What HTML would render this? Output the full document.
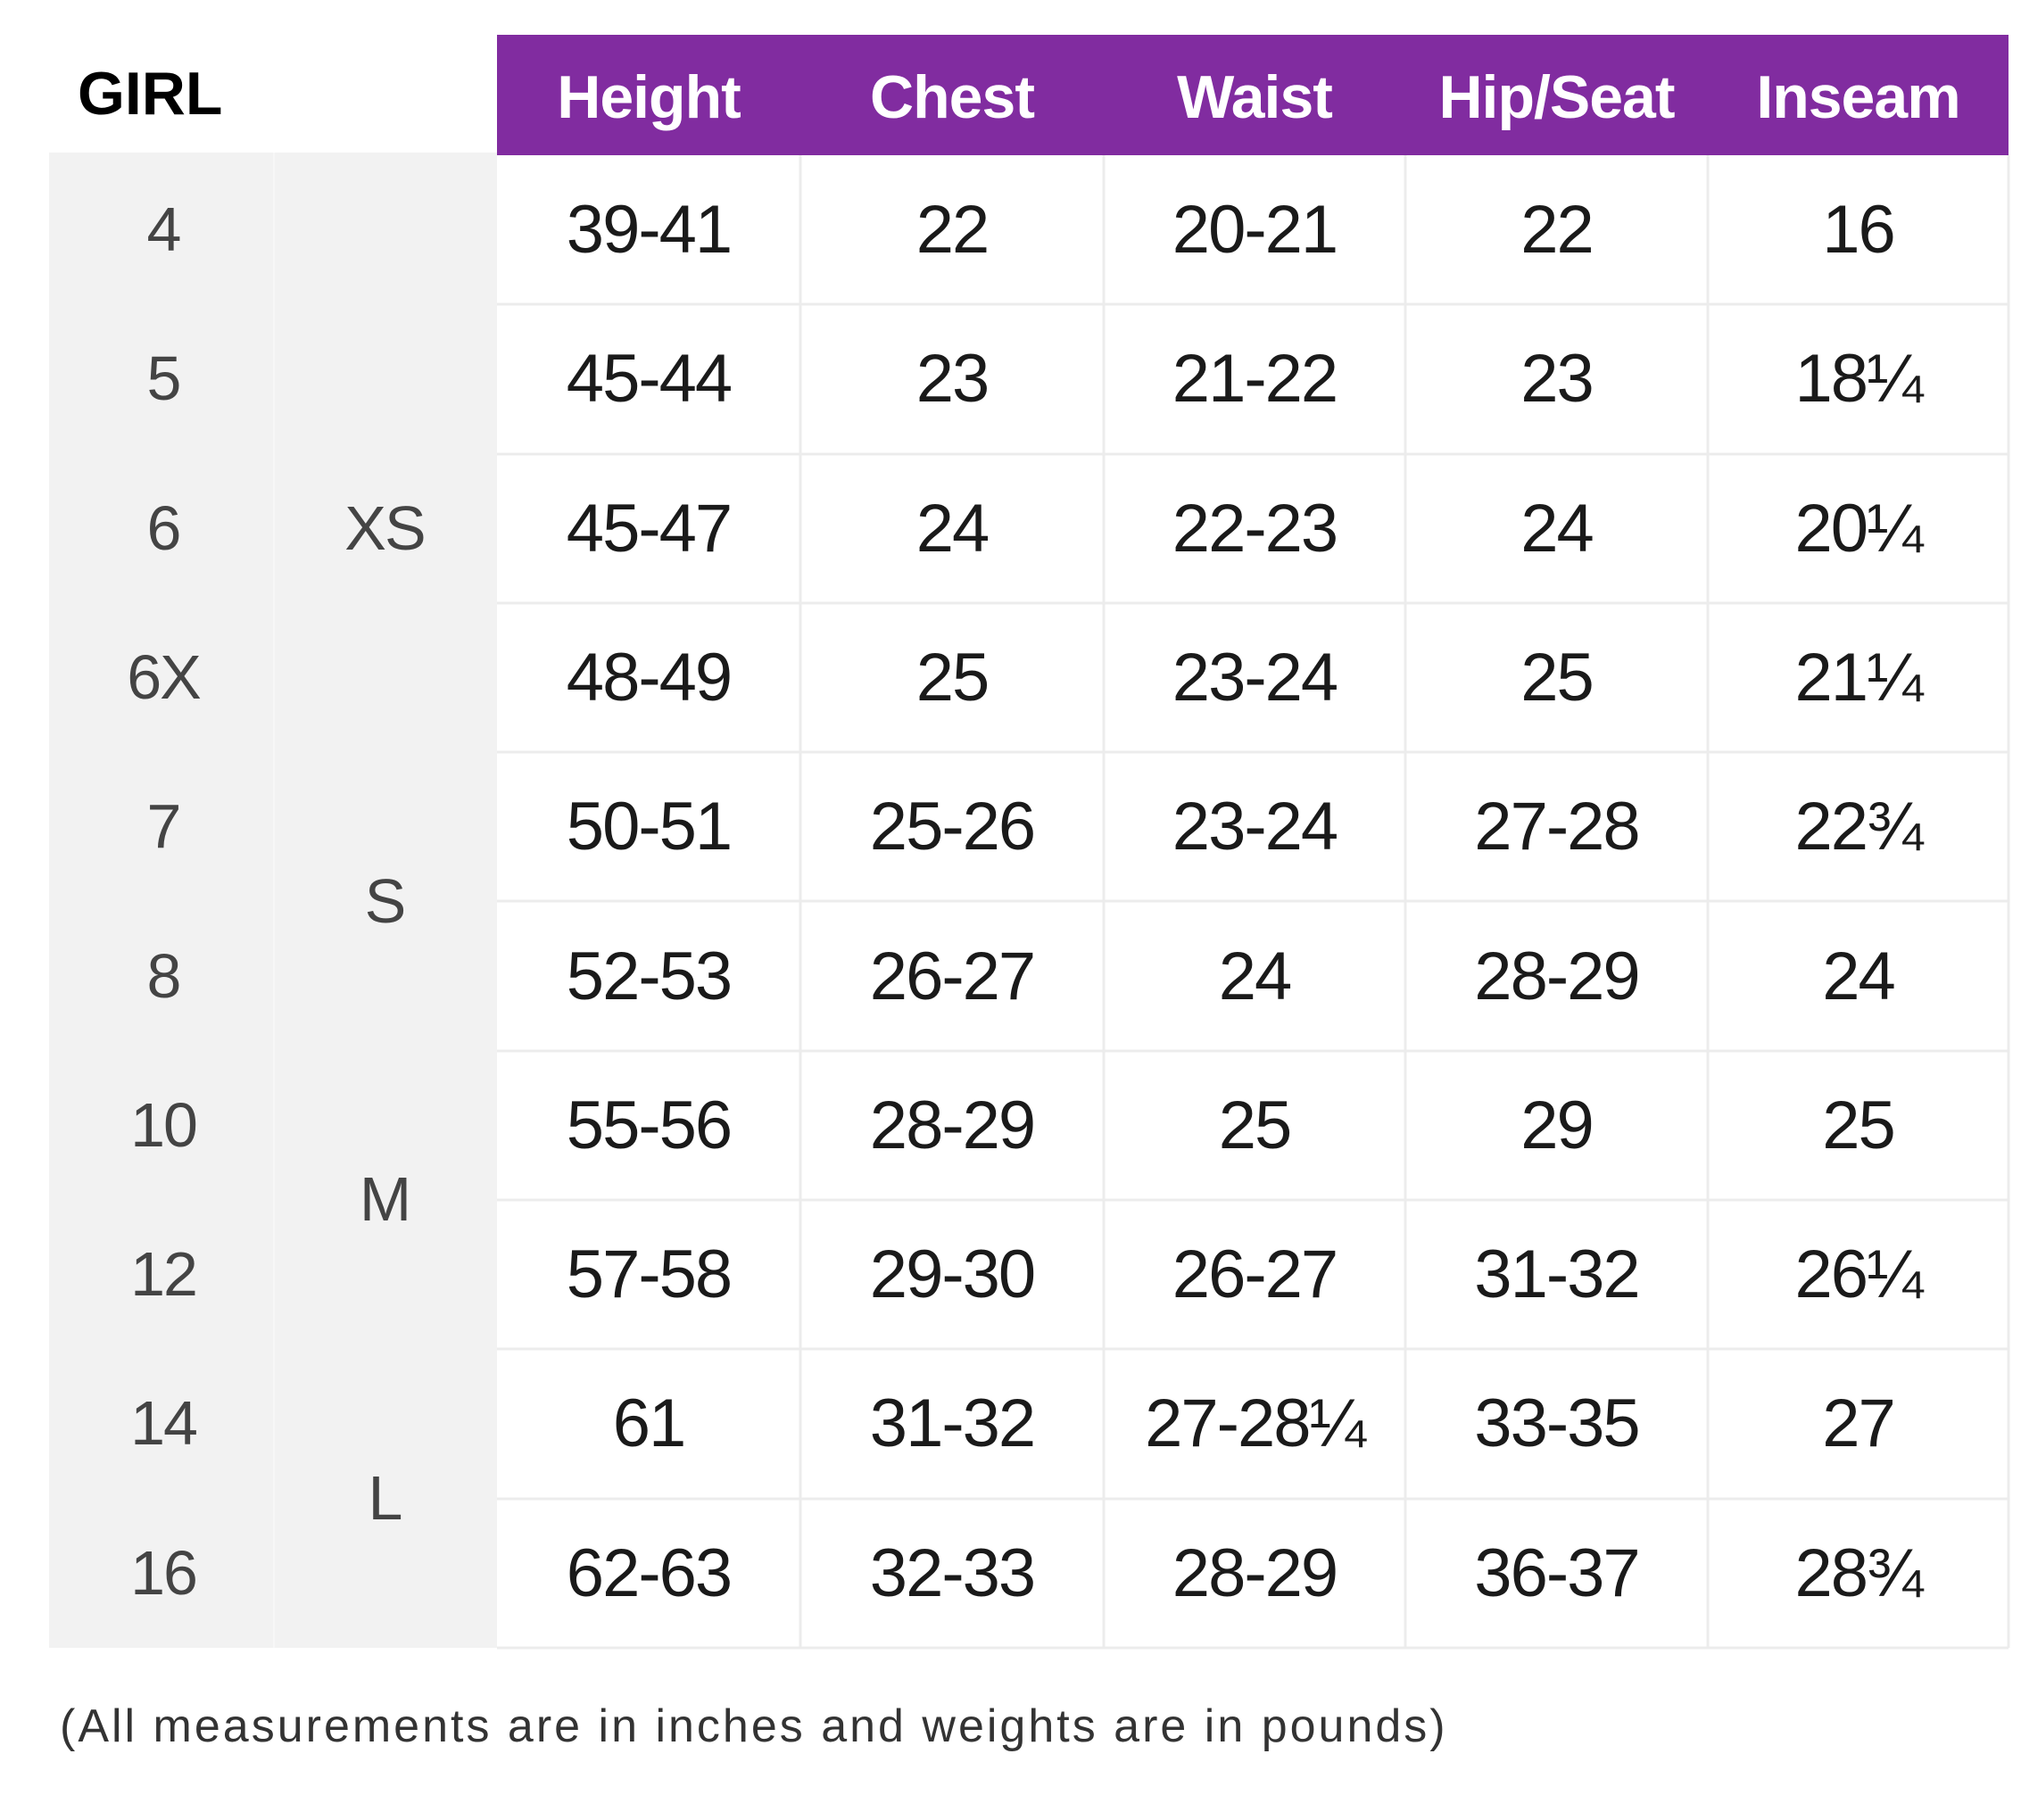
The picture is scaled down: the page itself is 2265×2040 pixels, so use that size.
<!DOCTYPE html>
<html><head><style>
body{margin:0;width:2265px;height:2040px;background:#fff;position:relative;overflow:hidden;font-family:"Liberation Sans",sans-serif}
.a{position:absolute}
.c{position:absolute;text-align:center;height:167px;line-height:167px;font-size:76px;color:#1a1a1a;letter-spacing:-2px}
.h{position:absolute;top:39px;height:135px;line-height:140px;text-align:center;color:#fff;font-size:68px;font-weight:bold;letter-spacing:-1px}
.g{position:absolute;text-align:center;height:167px;line-height:167px;font-size:70px;color:#444;letter-spacing:-2px}
</style></head><body>
<div class="a" style="left:557px;top:39px;width:1694px;height:135px;background:#812ca0"></div>
<div class="a" style="left:55px;top:171px;width:502px;height:1676px;background:#f2f2f2"></div>
<div class="a" style="left:306px;top:171px;width:2px;height:1676px;background:#f7f7f7"></div>
<div class="a" style="left:87px;top:62px;font-size:68px;font-weight:bold;color:#000;line-height:86px">GIRL</div>
<div class="h" style="left:557px;width:340px">Height</div>
<div class="h" style="left:897px;width:340px">Chest</div>
<div class="h" style="left:1237px;width:338px">Waist</div>
<div class="h" style="left:1575px;width:339px">Hip/Seat</div>
<div class="h" style="left:1914px;width:337px">Inseam</div>
<svg class="a" style="left:0;top:0" width="2265" height="2040">
<g stroke="#ececec" stroke-width="3">
<line x1="897" y1="174" x2="897" y2="1847"/><line x1="1237" y1="174" x2="1237" y2="1847"/>
<line x1="1575" y1="174" x2="1575" y2="1847"/><line x1="1914" y1="174" x2="1914" y2="1847"/>
<line x1="2251" y1="174" x2="2251" y2="1847"/>
<line x1="557" y1="341" x2="2251" y2="341"/><line x1="557" y1="509" x2="2251" y2="509"/>
<line x1="557" y1="676" x2="2251" y2="676"/><line x1="557" y1="843" x2="2251" y2="843"/>
<line x1="557" y1="1010" x2="2251" y2="1010"/><line x1="557" y1="1178" x2="2251" y2="1178"/>
<line x1="557" y1="1345" x2="2251" y2="1345"/><line x1="557" y1="1512" x2="2251" y2="1512"/>
<line x1="557" y1="1680" x2="2251" y2="1680"/><line x1="557" y1="1847" x2="2251" y2="1847"/>
</g></svg>
<div id="t"></div>
<script>
var rows=[["4","39-41","22","20-21","22","16"],["5","45-44","23","21-22","23","18¼"],["6","45-47","24","22-23","24","20¼"],["6X","48-49","25","23-24","25","21¼"],["7","50-51","25-26","23-24","27-28","22¾"],["8","52-53","26-27","24","28-29","24"],["10","55-56","28-29","25","29","25"],["12","57-58","29-30","26-27","31-32","26¼"],["14","61","31-32","27-28¼","33-35","27"],["16","62-63","32-33","28-29","36-37","28¾"]];
var xs=[557,897,1237,1575,1914,2251],h="";
rows.forEach(function(r,i){var y=174+167.3*i;
h+='<div class="g" style="left:83px;width:200px;top:'+y+'px">'+r[0]+'</div>';
for(var j=1;j<6;j++)h+='<div class="c" style="left:'+xs[j-1]+'px;width:'+(xs[j]-xs[j-1])+'px;top:'+y+'px">'+r[j]+'</div>';});
[["XS",2],["S",4.5],["M",6.5],["L",8.5]].forEach(function(s){h+='<div class="g" style="left:331px;width:200px;top:'+(174+167.3*s[1])+'px">'+s[0]+'</div>';});
document.getElementById("t").innerHTML=h;
</script>
<div class="a" style="left:67px;top:1904px;font-size:52px;color:#333;line-height:62px;letter-spacing:3px;white-space:nowrap">(All measurements are in inches and weights are in pounds)</div>
</body></html>
